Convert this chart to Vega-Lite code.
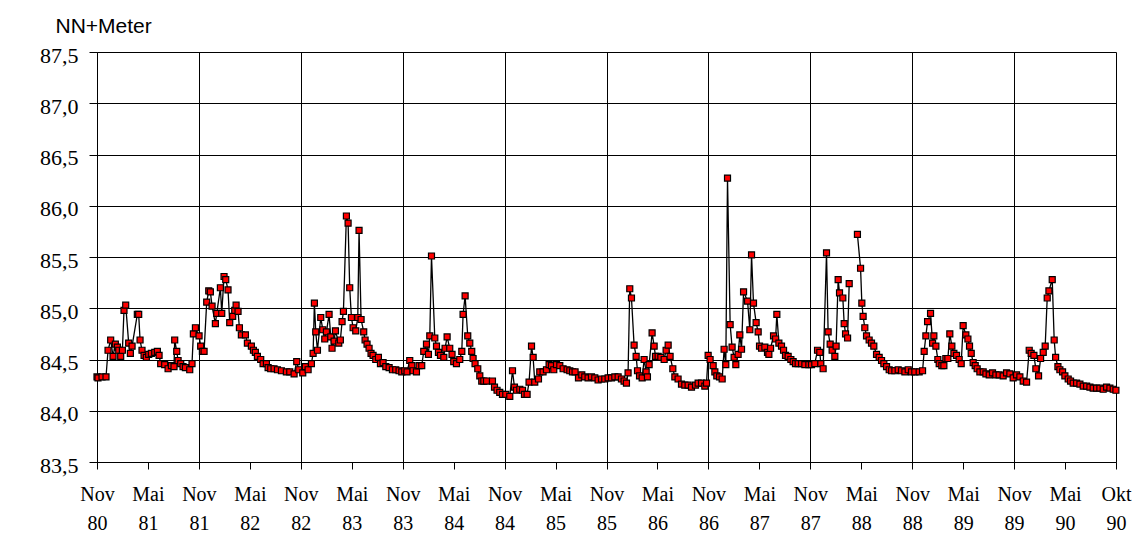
{
 "$schema": "https://vega.github.io/schema/vega-lite/v6.json",
 "width": 1019,
 "height": 410,
 "autosize": {"type": "none"},
 "padding": {"left": 97, "top": 52, "right": 26, "bottom": 87},
 "background": "white",
 "config": {
  "view": {"stroke": null},
  "axis": {"labelFont": "Liberation Serif", "labelColor": "#000", "tickColor": "#000", "domainColor": "#000", "gridColor": "#000", "gridWidth": 1, "domainWidth": 1, "tickWidth": 1}
 },
 "data": {"values": [
  {"monat":0.0,"wasserstand":84.33},{"monat":0.12,"wasserstand":84.32},{"monat":0.59,"wasserstand":84.33},{"monat":1.06,"wasserstand":84.33},
  {"monat":1.30,"wasserstand":84.59},{"monat":1.61,"wasserstand":84.69},{"monat":1.89,"wasserstand":84.53},{"monat":2.16,"wasserstand":84.65},
  {"monat":2.40,"wasserstand":84.62},{"monat":2.56,"wasserstand":84.59},{"monat":2.79,"wasserstand":84.53},{"monat":2.99,"wasserstand":84.59},
  {"monat":3.18,"wasserstand":84.98},{"monat":3.38,"wasserstand":85.03},{"monat":3.73,"wasserstand":84.66},{"monat":3.93,"wasserstand":84.56},
  {"monat":4.13,"wasserstand":84.63},{"monat":4.75,"wasserstand":84.94},{"monat":4.91,"wasserstand":84.94},{"monat":5.07,"wasserstand":84.69},
  {"monat":5.30,"wasserstand":84.59},{"monat":5.54,"wasserstand":84.54},{"monat":5.81,"wasserstand":84.52},{"monat":6.09,"wasserstand":84.55},
  {"monat":6.40,"wasserstand":84.56},{"monat":6.80,"wasserstand":84.57},{"monat":7.11,"wasserstand":84.58},{"monat":7.31,"wasserstand":84.54},
  {"monat":7.50,"wasserstand":84.46},{"monat":7.97,"wasserstand":84.45},{"monat":8.37,"wasserstand":84.41},{"monat":8.76,"wasserstand":84.44},
  {"monat":9.07,"wasserstand":84.43},{"monat":9.15,"wasserstand":84.69},{"monat":9.39,"wasserstand":84.58},{"monat":9.55,"wasserstand":84.49},
  {"monat":9.86,"wasserstand":84.46},{"monat":10.13,"wasserstand":84.43},{"monat":10.41,"wasserstand":84.42},{"monat":10.92,"wasserstand":84.40},
  {"monat":11.19,"wasserstand":84.46},{"monat":11.35,"wasserstand":84.75},{"monat":11.59,"wasserstand":84.81},{"monat":12.02,"wasserstand":84.73},
  {"monat":12.21,"wasserstand":84.63},{"monat":12.41,"wasserstand":84.58},{"monat":12.61,"wasserstand":84.58},{"monat":12.92,"wasserstand":85.06},
  {"monat":13.16,"wasserstand":85.17},{"monat":13.35,"wasserstand":85.16},{"monat":13.55,"wasserstand":85.02},{"monat":13.94,"wasserstand":84.85},
  {"monat":14.10,"wasserstand":84.95},{"monat":14.53,"wasserstand":85.20},{"monat":14.69,"wasserstand":84.95},{"monat":14.96,"wasserstand":85.31},
  {"monat":15.16,"wasserstand":85.28},{"monat":15.43,"wasserstand":85.18},{"monat":15.63,"wasserstand":84.86},{"monat":15.98,"wasserstand":84.92},
  {"monat":16.22,"wasserstand":84.98},{"monat":16.38,"wasserstand":85.03},{"monat":16.61,"wasserstand":84.97},{"monat":16.77,"wasserstand":84.81},
  {"monat":17.00,"wasserstand":84.74},{"monat":17.48,"wasserstand":84.74},{"monat":17.71,"wasserstand":84.66},{"monat":18.18,"wasserstand":84.63},
  {"monat":18.42,"wasserstand":84.59},{"monat":18.65,"wasserstand":84.57},{"monat":18.89,"wasserstand":84.53},{"monat":19.28,"wasserstand":84.50},
  {"monat":19.56,"wasserstand":84.46},{"monat":19.95,"wasserstand":84.46},{"monat":20.15,"wasserstand":84.42},{"monat":20.46,"wasserstand":84.41},
  {"monat":20.85,"wasserstand":84.41},{"monat":21.25,"wasserstand":84.40},{"monat":21.72,"wasserstand":84.39},{"monat":22.30,"wasserstand":84.38},
  {"monat":22.70,"wasserstand":84.38},{"monat":23.21,"wasserstand":84.36},{"monat":23.52,"wasserstand":84.48},{"monat":23.76,"wasserstand":84.40},
  {"monat":24.23,"wasserstand":84.37},{"monat":24.54,"wasserstand":84.43},{"monat":24.86,"wasserstand":84.40},{"monat":25.25,"wasserstand":84.46},
  {"monat":25.45,"wasserstand":84.56},{"monat":25.60,"wasserstand":85.05},{"monat":25.76,"wasserstand":84.77},{"monat":25.96,"wasserstand":84.59},
  {"monat":26.35,"wasserstand":84.91},{"monat":26.59,"wasserstand":84.79},{"monat":26.82,"wasserstand":84.70},{"monat":27.02,"wasserstand":84.77},
  {"monat":27.33,"wasserstand":84.94},{"monat":27.53,"wasserstand":84.72},{"monat":27.68,"wasserstand":84.61},{"monat":27.92,"wasserstand":84.68},
  {"monat":28.08,"wasserstand":84.78},{"monat":28.47,"wasserstand":84.66},{"monat":28.66,"wasserstand":84.69},{"monat":28.86,"wasserstand":84.87},
  {"monat":29.02,"wasserstand":84.97},{"monat":29.37,"wasserstand":85.90},{"monat":29.57,"wasserstand":85.83},{"monat":29.76,"wasserstand":85.20},
  {"monat":29.96,"wasserstand":84.91},{"monat":30.16,"wasserstand":84.81},{"monat":30.47,"wasserstand":84.78},{"monat":30.71,"wasserstand":84.91},
  {"monat":30.86,"wasserstand":85.76},{"monat":31.10,"wasserstand":84.89},{"monat":31.41,"wasserstand":84.77},{"monat":31.57,"wasserstand":84.69},
  {"monat":31.80,"wasserstand":84.65},{"monat":32.04,"wasserstand":84.61},{"monat":32.27,"wasserstand":84.56},{"monat":32.51,"wasserstand":84.54},
  {"monat":32.83,"wasserstand":84.50},{"monat":33.14,"wasserstand":84.52},{"monat":33.38,"wasserstand":84.46},{"monat":33.69,"wasserstand":84.47},
  {"monat":34.01,"wasserstand":84.43},{"monat":34.40,"wasserstand":84.42},{"monat":34.79,"wasserstand":84.40},{"monat":35.18,"wasserstand":84.40},
  {"monat":35.57,"wasserstand":84.39},{"monat":35.89,"wasserstand":84.38},{"monat":36.24,"wasserstand":84.39},{"monat":36.51,"wasserstand":84.38},
  {"monat":36.83,"wasserstand":84.49},{"monat":37.07,"wasserstand":84.44},{"monat":37.22,"wasserstand":84.39},{"monat":37.62,"wasserstand":84.38},
  {"monat":37.93,"wasserstand":84.44},{"monat":38.24,"wasserstand":84.44},{"monat":38.48,"wasserstand":84.58},{"monat":38.80,"wasserstand":84.65},
  {"monat":39.03,"wasserstand":84.55},{"monat":39.19,"wasserstand":84.73},{"monat":39.39,"wasserstand":85.51},{"monat":39.78,"wasserstand":84.71},
  {"monat":39.98,"wasserstand":84.63},{"monat":40.21,"wasserstand":84.57},{"monat":40.45,"wasserstand":84.54},{"monat":40.84,"wasserstand":84.52},
  {"monat":40.99,"wasserstand":84.61},{"monat":41.23,"wasserstand":84.72},{"monat":41.54,"wasserstand":84.61},{"monat":41.81,"wasserstand":84.55},
  {"monat":42.01,"wasserstand":84.48},{"monat":42.33,"wasserstand":84.46},{"monat":42.72,"wasserstand":84.50},{"monat":42.96,"wasserstand":84.58},
  {"monat":43.11,"wasserstand":84.94},{"monat":43.35,"wasserstand":85.12},{"monat":43.66,"wasserstand":84.73},{"monat":43.90,"wasserstand":84.66},
  {"monat":44.13,"wasserstand":84.58},{"monat":44.29,"wasserstand":84.51},{"monat":44.52,"wasserstand":84.46},{"monat":44.84,"wasserstand":84.41},
  {"monat":45.08,"wasserstand":84.34},{"monat":45.31,"wasserstand":84.29},{"monat":45.55,"wasserstand":84.29},{"monat":45.87,"wasserstand":84.29},
  {"monat":46.57,"wasserstand":84.29},{"monat":46.81,"wasserstand":84.23},{"monat":47.11,"wasserstand":84.20},{"monat":47.43,"wasserstand":84.18},
  {"monat":47.75,"wasserstand":84.16},{"monat":48.14,"wasserstand":84.16},{"monat":48.61,"wasserstand":84.14},{"monat":48.93,"wasserstand":84.39},
  {"monat":49.16,"wasserstand":84.23},{"monat":49.40,"wasserstand":84.20},{"monat":49.79,"wasserstand":84.21},{"monat":50.11,"wasserstand":84.20},
  {"monat":50.34,"wasserstand":84.16},{"monat":50.65,"wasserstand":84.16},{"monat":50.88,"wasserstand":84.28},{"monat":51.17,"wasserstand":84.63},
  {"monat":51.36,"wasserstand":84.52},{"monat":51.55,"wasserstand":84.28},{"monat":51.99,"wasserstand":84.31},{"monat":52.14,"wasserstand":84.38},
  {"monat":52.53,"wasserstand":84.38},{"monat":52.93,"wasserstand":84.40},{"monat":53.24,"wasserstand":84.45},{"monat":53.52,"wasserstand":84.44},
  {"monat":53.79,"wasserstand":84.40},{"monat":54.11,"wasserstand":84.45},{"monat":54.50,"wasserstand":84.44},{"monat":54.89,"wasserstand":84.41},
  {"monat":55.36,"wasserstand":84.40},{"monat":55.68,"wasserstand":84.39},{"monat":55.99,"wasserstand":84.38},{"monat":56.30,"wasserstand":84.38},
  {"monat":56.70,"wasserstand":84.32},{"monat":57.09,"wasserstand":84.35},{"monat":57.44,"wasserstand":84.33},{"monat":57.83,"wasserstand":84.32},
  {"monat":58.23,"wasserstand":84.33},{"monat":58.62,"wasserstand":84.32},{"monat":59.01,"wasserstand":84.30},{"monat":59.41,"wasserstand":84.31},
  {"monat":59.80,"wasserstand":84.31},{"monat":60.19,"wasserstand":84.32},{"monat":60.59,"wasserstand":84.32},{"monat":60.98,"wasserstand":84.33},
  {"monat":61.37,"wasserstand":84.33},{"monat":61.76,"wasserstand":84.31},{"monat":62.07,"wasserstand":84.29},{"monat":62.35,"wasserstand":84.27},
  {"monat":62.54,"wasserstand":84.37},{"monat":62.74,"wasserstand":85.19},{"monat":62.94,"wasserstand":85.10},{"monat":63.25,"wasserstand":84.64},
  {"monat":63.49,"wasserstand":84.53},{"monat":63.65,"wasserstand":84.39},{"monat":63.89,"wasserstand":84.34},{"monat":64.20,"wasserstand":84.32},
  {"monat":64.43,"wasserstand":84.50},{"monat":64.67,"wasserstand":84.38},{"monat":64.82,"wasserstand":84.33},{"monat":65.02,"wasserstand":84.45},
  {"monat":65.37,"wasserstand":84.76},{"monat":65.61,"wasserstand":84.63},{"monat":65.77,"wasserstand":84.53},{"monat":66.08,"wasserstand":84.53},
  {"monat":66.40,"wasserstand":84.52},{"monat":66.79,"wasserstand":84.50},{"monat":67.02,"wasserstand":84.59},{"monat":67.26,"wasserstand":84.64},
  {"monat":67.49,"wasserstand":84.53},{"monat":67.81,"wasserstand":84.41},{"monat":68.05,"wasserstand":84.33},{"monat":68.43,"wasserstand":84.31},
  {"monat":68.83,"wasserstand":84.26},{"monat":69.22,"wasserstand":84.25},{"monat":69.61,"wasserstand":84.25},{"monat":70.01,"wasserstand":84.23},
  {"monat":70.48,"wasserstand":84.25},{"monat":70.79,"wasserstand":84.27},{"monat":71.19,"wasserstand":84.27},{"monat":71.58,"wasserstand":84.24},
  {"monat":71.78,"wasserstand":84.27},{"monat":71.97,"wasserstand":84.54},{"monat":72.20,"wasserstand":84.50},{"monat":72.56,"wasserstand":84.44},
  {"monat":72.76,"wasserstand":84.38},{"monat":72.99,"wasserstand":84.34},{"monat":73.31,"wasserstand":84.33},{"monat":73.62,"wasserstand":84.31},
  {"monat":73.85,"wasserstand":84.60},{"monat":74.05,"wasserstand":84.45},{"monat":74.25,"wasserstand":86.27},{"monat":74.56,"wasserstand":84.84},
  {"monat":74.79,"wasserstand":84.62},{"monat":75.03,"wasserstand":84.52},{"monat":75.23,"wasserstand":84.45},{"monat":75.50,"wasserstand":84.55},
  {"monat":75.70,"wasserstand":84.74},{"monat":75.90,"wasserstand":84.60},{"monat":76.14,"wasserstand":85.16},{"monat":76.61,"wasserstand":85.07},
  {"monat":76.88,"wasserstand":84.79},{"monat":77.08,"wasserstand":85.52},{"monat":77.31,"wasserstand":85.05},{"monat":77.62,"wasserstand":84.86},
  {"monat":77.86,"wasserstand":84.77},{"monat":78.02,"wasserstand":84.63},{"monat":78.26,"wasserstand":84.61},{"monat":78.65,"wasserstand":84.62},
  {"monat":78.96,"wasserstand":84.57},{"monat":79.12,"wasserstand":84.55},{"monat":79.32,"wasserstand":84.61},{"monat":79.67,"wasserstand":84.73},
  {"monat":79.91,"wasserstand":84.70},{"monat":80.06,"wasserstand":84.94},{"monat":80.30,"wasserstand":84.66},{"monat":80.61,"wasserstand":84.63},
  {"monat":80.85,"wasserstand":84.59},{"monat":81.08,"wasserstand":84.54},{"monat":81.39,"wasserstand":84.53},{"monat":81.71,"wasserstand":84.50},
  {"monat":81.98,"wasserstand":84.48},{"monat":82.26,"wasserstand":84.46},{"monat":82.57,"wasserstand":84.46},{"monat":82.97,"wasserstand":84.46},
  {"monat":83.36,"wasserstand":84.45},{"monat":83.83,"wasserstand":84.45},{"monat":84.14,"wasserstand":84.45},{"monat":84.53,"wasserstand":84.46},
  {"monat":84.85,"wasserstand":84.59},{"monat":85.12,"wasserstand":84.57},{"monat":85.24,"wasserstand":84.46},{"monat":85.51,"wasserstand":84.41},
  {"monat":85.91,"wasserstand":85.54},{"monat":86.10,"wasserstand":84.77},{"monat":86.34,"wasserstand":84.65},{"monat":86.57,"wasserstand":84.59},
  {"monat":86.89,"wasserstand":84.53},{"monat":87.04,"wasserstand":84.63},{"monat":87.28,"wasserstand":85.28},{"monat":87.44,"wasserstand":85.15},
  {"monat":87.83,"wasserstand":85.10},{"monat":87.99,"wasserstand":84.85},{"monat":88.15,"wasserstand":84.75},{"monat":88.39,"wasserstand":84.71},
  {"monat":88.58,"wasserstand":85.24},{"monat":89.05,"wasserstand":null},{"monat":89.55,"wasserstand":85.72},{"monat":89.92,"wasserstand":85.39},
  {"monat":90.07,"wasserstand":85.05},{"monat":90.22,"wasserstand":84.92},{"monat":90.42,"wasserstand":84.81},{"monat":90.62,"wasserstand":84.73},
  {"monat":90.93,"wasserstand":84.69},{"monat":91.21,"wasserstand":84.66},{"monat":91.48,"wasserstand":84.63},{"monat":91.80,"wasserstand":84.55},
  {"monat":92.11,"wasserstand":84.52},{"monat":92.39,"wasserstand":84.49},{"monat":92.66,"wasserstand":84.46},{"monat":92.98,"wasserstand":84.43},
  {"monat":93.29,"wasserstand":84.40},{"monat":93.57,"wasserstand":84.39},{"monat":93.96,"wasserstand":84.39},{"monat":94.35,"wasserstand":84.40},
  {"monat":94.74,"wasserstand":84.39},{"monat":95.14,"wasserstand":84.38},{"monat":95.53,"wasserstand":84.40},{"monat":95.92,"wasserstand":84.38},
  {"monat":96.31,"wasserstand":84.38},{"monat":96.82,"wasserstand":84.38},{"monat":97.22,"wasserstand":84.39},{"monat":97.41,"wasserstand":84.58},
  {"monat":97.61,"wasserstand":84.73},{"monat":97.81,"wasserstand":84.87},{"monat":98.16,"wasserstand":84.95},{"monat":98.40,"wasserstand":84.66},
  {"monat":98.55,"wasserstand":84.73},{"monat":98.79,"wasserstand":84.63},{"monat":99.02,"wasserstand":84.50},{"monat":99.18,"wasserstand":84.46},
  {"monat":99.49,"wasserstand":84.44},{"monat":99.73,"wasserstand":84.44},{"monat":99.96,"wasserstand":84.51},{"monat":100.20,"wasserstand":84.51},
  {"monat":100.43,"wasserstand":84.75},{"monat":100.67,"wasserstand":84.63},{"monat":100.91,"wasserstand":84.56},{"monat":101.22,"wasserstand":84.54},
  {"monat":101.53,"wasserstand":84.50},{"monat":101.77,"wasserstand":84.46},{"monat":102.00,"wasserstand":84.83},{"monat":102.32,"wasserstand":84.74},
  {"monat":102.56,"wasserstand":84.70},{"monat":102.75,"wasserstand":84.63},{"monat":102.95,"wasserstand":84.56},{"monat":103.18,"wasserstand":84.47},
  {"monat":103.42,"wasserstand":84.44},{"monat":103.65,"wasserstand":84.41},{"monat":103.97,"wasserstand":84.38},{"monat":104.36,"wasserstand":84.38},
  {"monat":104.68,"wasserstand":84.36},{"monat":105.07,"wasserstand":84.35},{"monat":105.46,"wasserstand":84.37},{"monat":105.85,"wasserstand":84.35},
  {"monat":106.24,"wasserstand":84.35},{"monat":106.71,"wasserstand":84.34},{"monat":107.11,"wasserstand":84.37},{"monat":107.50,"wasserstand":84.36},
  {"monat":107.89,"wasserstand":84.32},{"monat":108.29,"wasserstand":84.35},{"monat":108.68,"wasserstand":84.33},{"monat":109.07,"wasserstand":84.29},
  {"monat":109.47,"wasserstand":84.28},{"monat":109.78,"wasserstand":84.59},{"monat":110.01,"wasserstand":84.56},{"monat":110.33,"wasserstand":84.54},
  {"monat":110.56,"wasserstand":84.41},{"monat":110.88,"wasserstand":84.34},{"monat":111.12,"wasserstand":84.51},{"monat":111.43,"wasserstand":84.57},
  {"monat":111.66,"wasserstand":84.63},{"monat":111.90,"wasserstand":85.10},{"monat":112.10,"wasserstand":85.17},{"monat":112.49,"wasserstand":85.28},
  {"monat":112.72,"wasserstand":84.69},{"monat":112.89,"wasserstand":84.52},{"monat":113.16,"wasserstand":84.43},{"monat":113.39,"wasserstand":84.40},
  {"monat":113.71,"wasserstand":84.38},{"monat":113.98,"wasserstand":84.34},{"monat":114.37,"wasserstand":84.31},{"monat":114.65,"wasserstand":84.29},
  {"monat":114.96,"wasserstand":84.27},{"monat":115.36,"wasserstand":84.27},{"monat":115.75,"wasserstand":84.26},{"monat":116.14,"wasserstand":84.24},
  {"monat":116.54,"wasserstand":84.24},{"monat":116.93,"wasserstand":84.23},{"monat":117.31,"wasserstand":84.22},{"monat":117.71,"wasserstand":84.22},
  {"monat":118.10,"wasserstand":84.22},{"monat":118.49,"wasserstand":84.21},{"monat":118.89,"wasserstand":84.23},{"monat":119.28,"wasserstand":84.22},
  {"monat":119.67,"wasserstand":84.21},{"monat":119.99,"wasserstand":84.20}
 ]},
 "encoding": {
  "x": {
   "field": "monat", "type": "quantitative",
   "scale": {"domain": [0, 120], "nice": false, "zero": false},
   "axis": {
    "values": [0,6,12,18,24,30,36,42,48,54,60,66,72,78,84,90,96,102,108,114,120],
    "labelExpr": "[datum.value == 120 ? 'Okt' : (datum.value % 12 == 0 ? 'Nov' : 'Mai'), '' + (80 + ceil(datum.value / 12))]",
    "labelFontSize": 20, "labelLineHeight": 29, "tickSize": 7, "labelPadding": 15,
    "labelFlush": false, "labelOverlap": false, "labelBaseline": "top",
    "grid": true,
    "gridOpacity": {"condition": {"test": "datum.value % 12 === 0", "value": 1}, "value": 0},
    "title": null
   }
  },
  "y": {
   "field": "wasserstand", "type": "quantitative",
   "scale": {"domain": [83.5, 87.5], "nice": false, "zero": false},
   "axis": {
    "values": [83.5,84,84.5,85,85.5,86,86.5,87,87.5],
    "labelExpr": "replace(format(datum.value, '.1f'), '.', ',')",
    "labelFontSize": 22, "tickSize": 8, "labelPadding": 11, "labelOffset": 3,
    "grid": true,
    "title": "NN+Meter", "titleFont": "Liberation Sans", "titleFontSize": 21, "titleFontWeight": "normal",
    "titleColor": "#000", "titleAngle": 0, "titleAlign": "left", "titleBaseline": "alphabetic",
    "titleX": -42, "titleY": -20
   }
  }
 },
 "layer": [
  {"mark": {"type": "line", "color": "#000", "strokeWidth": 1.3, "invalid": "break-paths-show-domains"}},
  {"mark": {"type": "point", "shape": "square", "filled": true, "fill": "#ff0000", "stroke": "#000", "strokeWidth": 1.2, "size": 36, "opacity": 1}}
 ]
}
